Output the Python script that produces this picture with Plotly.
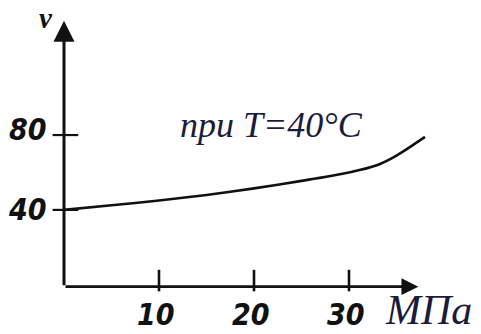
import plotly.graph_objects as go

# data
pressure = [0, 5, 10, 15, 20, 25, 30, 33, 35, 38]
v_values = [40, 42.5, 45, 48, 51.5, 55.5, 60, 64, 69, 79]
x_ticks = [10, 20, 30]
y_ticks = [40, 80]
x_tick_labels = ["10", "20", "30"]
y_tick_labels = ["40", "80"]

INK = "#111111"
TEXT_BLUE = "#1b1b3c"
axis_y0 = -1
x_axis_end = 37.3
y_axis_end = 141

fig = go.Figure()
fig.add_trace(go.Scatter(x=pressure, y=v_values, mode="lines",
                         line=dict(color=INK, width=2.6, shape="spline", smoothing=0.8),
                         hoverinfo="skip", showlegend=False))

annotations = []
# axes with arrows
annotations.append(dict(x=0, y=y_axis_end, ax=0, ay=axis_y0, xref="x", yref="y",
                        axref="x", ayref="y", showarrow=True, arrowhead=2,
                        arrowsize=1.4, arrowwidth=3, arrowcolor=INK, text=""))
annotations.append(dict(x=x_axis_end, y=axis_y0, ax=0, ay=axis_y0, xref="x", yref="y",
                        axref="x", ayref="y", showarrow=True, arrowhead=2,
                        arrowsize=1.3, arrowwidth=2.6, arrowcolor=INK, text=""))

shapes = []
tick_font = dict(family="DejaVu Sans Condensed, Roboto Condensed, Liberation Sans, sans-serif",
                 size=30, color=INK, weight="bold", style="italic")
for t, lab in zip(x_ticks, x_tick_labels):
    shapes.append(dict(type="line", xref="x", yref="y", x0=t, x1=t, y0=8, y1=-3.5,
                       line=dict(color=INK, width=2.6)))
    annotations.append(dict(x=t, y=axis_y0, xref="x", yref="y", text=lab, showarrow=False,
                            font=tick_font, xanchor="center", yanchor="top", yshift=-8, xshift=-3))
for t, lab in zip(y_ticks, y_tick_labels):
    shapes.append(dict(type="line", xref="x", yref="y", x0=-1.2, x1=1.5, y0=t, y1=t,
                       line=dict(color=INK, width=2.2)))
    annotations.append(dict(x=-1.2, y=t, xref="x", yref="y", text=lab, showarrow=False,
                            font=tick_font, xanchor="right", yanchor="middle",
                            xshift=-4, yshift=6 if t == 80 else 0))

# axis labels and note (paper coordinates so they may sit outside the axes)
annotations.append(dict(x=0.003, y=1.066, xref="paper", yref="paper", text="v", showarrow=False,
                        font=dict(family="Liberation Serif", size=29, color=INK, weight="bold", style="italic"),
                        xanchor="center", yanchor="top", borderpad=0))
annotations.append(dict(x=0.962, y=-0.05, xref="paper", yref="paper", text="МПа", showarrow=False,
                        font=dict(family="Liberation Serif", size=42, color=TEXT_BLUE, style="italic"),
                        xanchor="center", yanchor="middle"))
annotations.append(dict(x=21.8, y=85.5, xref="x", yref="y", text="при T=40°C", showarrow=False,
                        font=dict(family="Liberation Serif", size=36, color=TEXT_BLUE, style="italic"),
                        xanchor="center", yanchor="middle"))

hidden = dict(showgrid=False, zeroline=False, showticklabels=False, showline=False, ticks="")
fig.update_layout(
    width=481, height=334,
    margin=dict(l=45, r=37, t=18.75, b=37.75),
    paper_bgcolor="white", plot_bgcolor="white",
    xaxis=dict(range=[-2, 40], **hidden),
    yaxis=dict(range=[-6, 142], **hidden),
    annotations=annotations, shapes=shapes,
    showlegend=False,
)
fig.write_html("out.html", config={"displayModeBar": False, "staticPlot": True},
               post_script="document.body.style.margin='0px';")
